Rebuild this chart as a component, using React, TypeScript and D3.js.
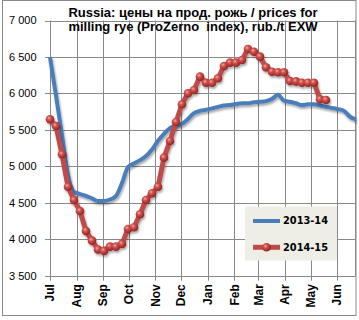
import React from 'react';
import * as d3 from 'd3';

const titleLines = ['Russia: цены на прод. рожь / prices for', 'milling rye (ProZerno  index), rub./t EXW'];
const monthLabels = ['Jul', 'Aug', 'Sep', 'Oct', 'Nov', 'Dec', 'Jan', 'Feb', 'Mar', 'Apr', 'May', 'Jun'];
const yTicks = [3500, 4000, 4500, 5000, 5500, 6000, 6500, 7000];
const seriesNames = ['2013-14', '2014-15'];

// weekly values, 2013-14 (blue, smoothed)
const values1314 = [
  6500, 5969, 5430, 4880, 4650, 4620, 4595, 4560, 4525, 4525, 4545, 4595, 4770,
  4990, 5040, 5085, 5140, 5230, 5350, 5445, 5525, 5555, 5585, 5650, 5730, 5760,
  5775, 5795, 5815, 5835, 5840, 5855, 5865, 5865, 5880, 5885, 5895, 5925, 5980,
  5900, 5885, 5865, 5840, 5850, 5850, 5835, 5815, 5800, 5785, 5760, 5680, 5645,
];

// weekly values, 2014-15 (red, markers)
const values1415 = [
  5645, 5553, 5165, 4721, 4539, 4388, 4114, 3981, 3860, 3840, 3899, 3899, 3936,
  4141, 4164, 4343, 4539, 4631, 4721, 5119, 5348, 5608, 5851, 6002, 6047, 6230,
  6147, 6147, 6207, 6376, 6422, 6422, 6458, 6609, 6572, 6504, 6358, 6298, 6290,
  6290, 6170, 6165, 6147, 6147, 6147, 5919, 5910,
];

const W = 359;
const H = 320;
const seasonStart = new Date(2014, 6, 1);
const seasonEnd = d3.timeDay.offset(seasonStart, 357);

const x = d3.scaleTime().domain([seasonStart, seasonEnd]).range([50, 356]);
const y = d3.scaleLinear().domain([3500, 7000]).range([275.7, 20.5]);

const weekDate = (i: number) => d3.timeDay.offset(seasonStart, 7 * i);
const monthDates = d3.timeMonth.range(seasonStart, d3.timeMonth.offset(seasonStart, 12));

const fmt = (v: number) => d3.format(',')(v).replace(',', ' ');

const blueLine = d3
  .line<number>()
  .x((_, i) => x(weekDate(i)))
  .y((d) => y(d))
  .curve(d3.curveMonotoneX);

const redLine = d3
  .line<number>()
  .x((_, i) => x(weekDate(i)))
  .y((d) => y(d));

const GRID = '#898989';
const BLUE = '#4a7ebb';
const RED = '#be4b48';

export default function App() {
  const [x0, x1] = x.range();
  const [yb, yt] = y.range();
  return (
    <svg width={W} height={H} style={{ position: 'absolute', left: 0, top: 0, background: '#fff' }}>
      <defs>
        <radialGradient id="ball" cx="38%" cy="35%" r="65%">
          <stop offset="0%" stopColor="#f4a9a6" />
          <stop offset="35%" stopColor="#d2534f" />
          <stop offset="100%" stopColor="#8e2523" />
        </radialGradient>
        <filter id="shadow" x="-10%" y="-10%" width="120%" height="130%">
          <feDropShadow dx="1" dy="2" stdDeviation="1.2" floodColor="#000" floodOpacity="0.35" />
        </filter>
      </defs>
      <rect x={0} y={0} width={W} height={H} fill="#fff" />
      {/* outer chart border */}
      <rect x={2.5} y={0.5} width={353.5} height={315} fill="none" stroke={GRID} strokeWidth={1} />

      {/* horizontal grid + y ticks */}
      {yTicks.map((t) => (
        <g key={t}>
          <line x1={45} x2={x1} y1={Math.round(y(t)) + 0.5} y2={Math.round(y(t)) + 0.5} stroke={GRID} strokeWidth={1} />
          <text
            x={36.5}
            y={y(t)}
            dy="0.35em"
            textAnchor="end"
            fontFamily="'Liberation Sans', Arial, sans-serif"
            fontSize={11}
            fill="#000"
          >
            {fmt(t)}
          </text>
        </g>
      ))}

      {/* vertical grid + x ticks + labels */}
      {monthDates.map((d, i) => (
        <g key={i}>
          <line
            x1={Math.round(x(d)) + 0.5}
            x2={Math.round(x(d)) + 0.5}
            y1={yt}
            y2={yb + 5}
            stroke={GRID}
            strokeWidth={1}
          />
          <text
            transform={`translate(${x(d)},${yb + 8.5}) rotate(-90)`}
            textAnchor="end"
            dy="0.36em"
            fontFamily="'Liberation Sans', Arial, sans-serif"
            fontWeight="bold"
            fontSize={12}
            fill="#000"
          >
            {monthLabels[i]}
          </text>
        </g>
      ))}
      <line x1={x1 - 0.5} x2={x1 - 0.5} y1={yt} y2={yb} stroke={GRID} strokeWidth={1} />

      {/* series 2013-14 */}
      <path d={blueLine(values1314) || ''} fill="none" stroke={BLUE} strokeWidth={4} filter="url(#shadow)" />

      {/* series 2014-15 */}
      <g filter="url(#shadow)">
        <path d={redLine(values1415) || ''} fill="none" stroke={RED} strokeWidth={5} strokeLinejoin="round" />
        {values1415.map((v, i) => (
          <circle key={i} cx={x(weekDate(i))} cy={y(v)} r={4.3} fill="url(#ball)" />
        ))}
      </g>

      {/* title */}
      {titleLines.map((t, i) => (
        <text
          key={i}
          x={193}
          y={16.7 + i * 13.8}
          textAnchor="middle"
          fontFamily="'Liberation Sans', Arial, sans-serif"
          fontWeight="bold"
          fontSize={13}
          fill="#000"
          style={{ whiteSpace: 'pre' }}
        >
          {t}
        </text>
      ))}

      {/* legend */}
      <g>
        <rect x={245} y={206.5} width={92} height={54} fill="#eeede6" />
        <line x1={253} x2={280} y1={221} y2={221} stroke={BLUE} strokeWidth={4} />
        <text x={283} y={221} dy="0.35em" fontFamily="'DejaVu Sans', Verdana, sans-serif" fontWeight="bold" fontSize={9.8} fill="#000">
          {seriesNames[0]}
        </text>
        <line x1={253} x2={280} y1={247.3} y2={247.3} stroke={RED} strokeWidth={5} />
        <circle cx={266.5} cy={247.3} r={4.3} fill="url(#ball)" />
        <text x={283} y={247.3} dy="0.35em" fontFamily="'DejaVu Sans', Verdana, sans-serif" fontWeight="bold" fontSize={9.8} fill="#000">
          {seriesNames[1]}
        </text>
      </g>
    </svg>
  );
}
